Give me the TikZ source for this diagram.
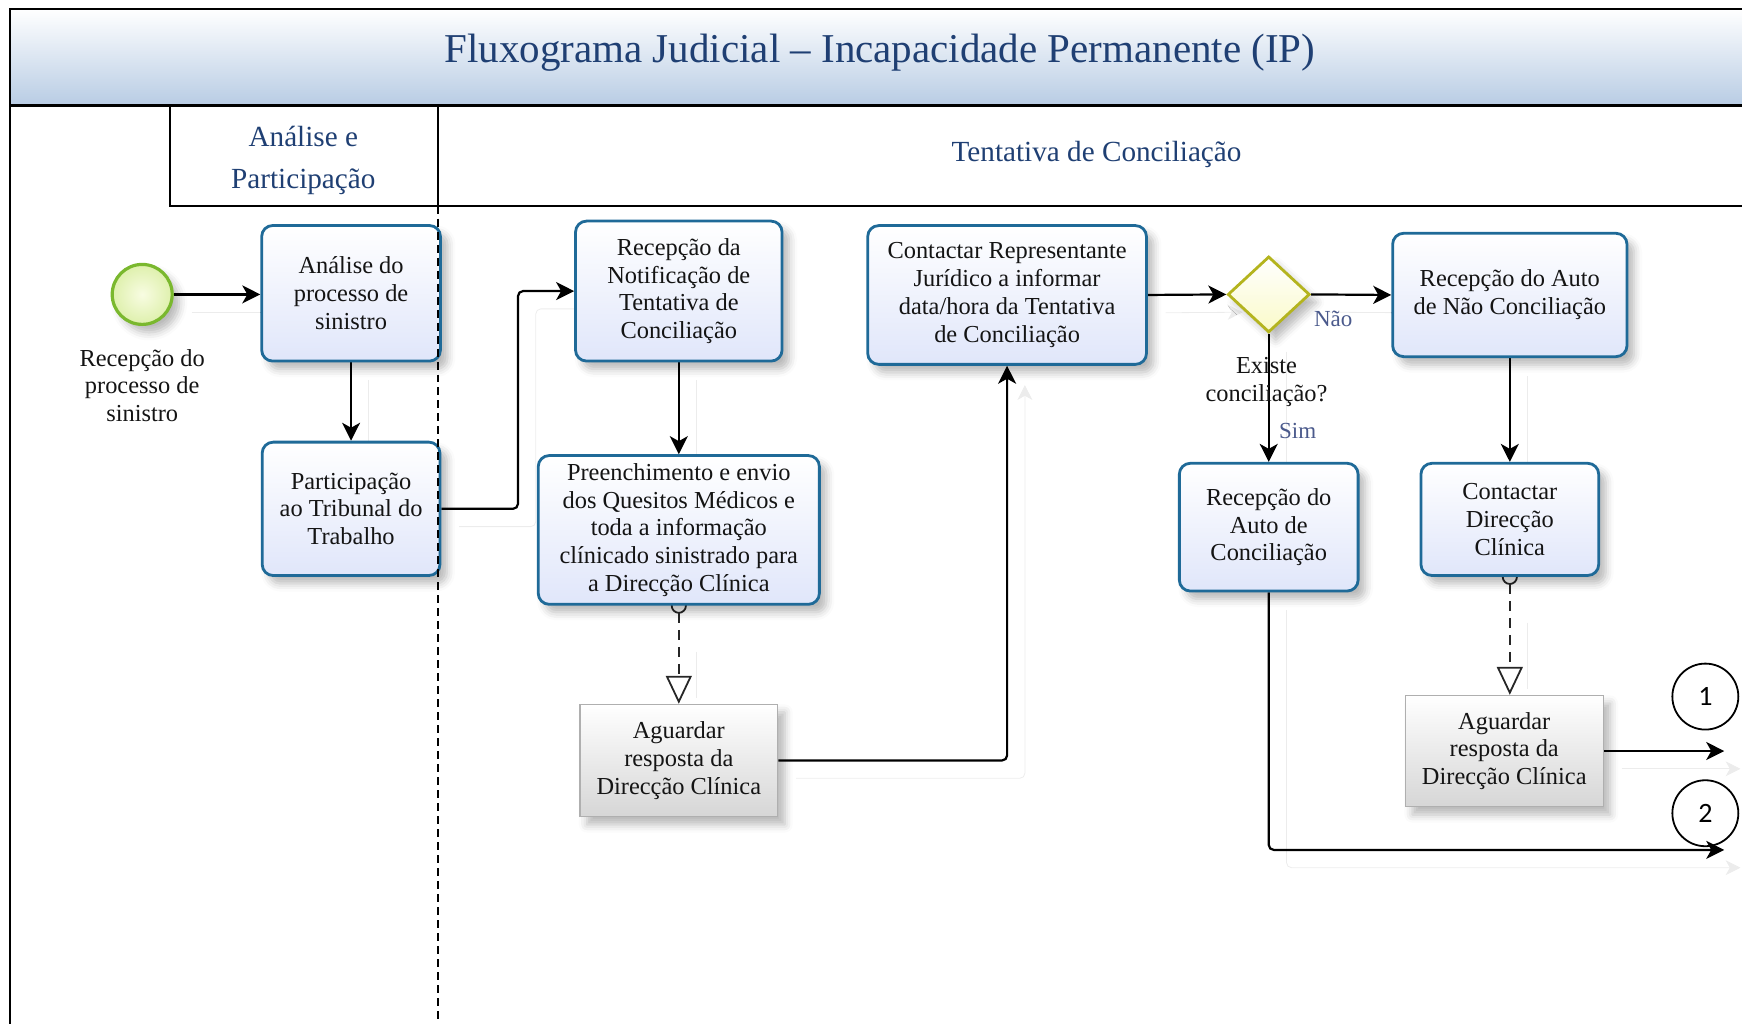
\documentclass[tikz,border=0pt]{standalone}
\usepackage{fontspec}
\setmainfont{Liberation Serif}
\newfontfamily\numfont{Carlito}
\usetikzlibrary{arrows.meta,shapes.geometric,shadows.blur}

\definecolor{taskline}{RGB}{31,106,152}
\definecolor{taskfill}{RGB}{224,230,250}
\definecolor{titleblue}{RGB}{31,63,115}
\definecolor{barblue}{RGB}{184,204,228}
\definecolor{startline}{RGB}{122,184,46}
\definecolor{startin}{RGB}{248,252,226}
\definecolor{startout}{RGB}{222,240,172}
\definecolor{gateline}{RGB}{180,180,30}
\definecolor{gatefill}{RGB}{250,250,200}
\definecolor{flowlabel}{RGB}{75,90,140}
\definecolor{waitline}{RGB}{175,175,175}
\definecolor{waitfill}{RGB}{214,214,214}
\definecolor{ghost}{RGB}{236,236,236}

\pgfdeclarelayer{background}
\pgfsetlayers{background,main}

\tikzset{
  txt/.style={font=\fontsize{12.2}{13.9}\selectfont, align=center, text=black!92},
  softshadow/.style={blur shadow={shadow xshift=3.5pt, shadow yshift=-4pt,
      shadow blur radius=4pt, shadow opacity=28}},
  task/.style={txt, draw=taskline, line width=1.4pt, rounded corners=5.5pt,
    top color=white, bottom color=taskfill, softshadow, inner sep=0pt},
  waitbox/.style={txt, draw=waitline, line width=0.6pt,
    top color=white, bottom color=waitfill, softshadow, inner sep=0pt},
  startev/.style={circle, draw=startline, line width=1.6pt, minimum size=30pt,
    inner color=startin, outer color=startout, softshadow, inner sep=0pt},
  gate/.style={diamond, draw=gateline, line width=1.4pt, minimum width=41pt,
    minimum height=38pt, inner sep=0pt, top color=white, bottom color=gatefill, softshadow},
  linkref/.style={circle, draw=black, line width=0.9pt, minimum size=33pt,
    inner sep=0pt, font=\numfont\fontsize{14}{16}\selectfont},
  ghostline/.style={preaction={draw=ghost, solid, transform canvas={shift={(8.9pt,-8.9pt)}}}},
  ghostplain/.style={preaction={draw=ghost, solid, arrows=-, shorten <=14pt, shorten >=12pt,
      transform canvas={shift={(8.9pt,-8.9pt)}}}},
  flow/.style={draw=black, line width=1.1pt, rounded corners=2.5pt,
    -{Stealth[length=9pt, width=9pt, inset=2.5pt]}, ghostline},
  msgflow/.style={draw=black!85, line width=1pt, dash pattern=on 5pt off 3.5pt,
    {Circle[fill=white, length=8pt, width=8pt, line width=0.9pt]}-{Triangle[fill=white, length=14pt, width=13pt, line width=0.9pt]},
    shorten <=-4pt, ghostplain},
  flowtag/.style={font=\fontsize{11.5}{13}\selectfont, text=flowlabel},
  header/.style={font=\fontsize{14.6}{21}\selectfont, text=titleblue, align=center},
}

\begin{document}
\begin{tikzpicture}[x=0.5556pt, y=-0.5556pt]
\useasboundingbox (0,0) rectangle (1568,921);

% title bar and lane headers
\draw[line width=1.3pt, top color=white, bottom color=barblue] (9,8) rectangle (1580,95);
\node[font=\fontsize{20.5}{24}\selectfont, text=titleblue] (title) at (792,47)
  {Fluxograma Judicial – Incapacidade Permanente (IP)};
\draw[line width=1.3pt] (9,95) -- (9,930);
\draw[line width=1pt] (153,95) -- (153,185) -- (1580,185);
\draw[line width=1pt] (394,95) -- (394,185);
\node[header] (laneA) at (273,144) {Análise e\\Participação};
\node[header] (laneB) at (987,139) {Tentativa de Conciliação};

% events, tasks and gateway
\node[startev] (start) at (128,265) {};
\node[txt] (startlbl) at (128,347) {Recepção do\\processo de\\sinistro};

\node[task, minimum width=89.4pt, minimum height=67.8pt] (A) at (316,264)
  {Análise do\\processo de\\sinistro};
\node[task, minimum width=88.9pt, minimum height=66.7pt] (B) at (316,458)
  {Participação\\ao Tribunal do\\Trabalho};
\node[task, minimum width=103.3pt, minimum height=70pt] (C) at (611,262)
  {Recepção da\\Notificação de\\Tentativa de\\Conciliação};
\node[task, minimum width=140.6pt, minimum height=74.4pt] (D) at (611,477)
  {Preenchimento e envio\\dos Quesitos Médicos e\\toda a informação\\clínicado sinistrado para\\a Direcção Clínica};
\node[waitbox, minimum width=98.9pt, minimum height=56.1pt] (E) at (611,684.5)
  {Aguardar\\resposta da\\Direcção Clínica};
\node[task, minimum width=139.4pt, minimum height=69.4pt] (F) at (906.5,265.5)
  {Contactar Representante\\Jurídico a informar\\data/hora da Tentativa\\de Conciliação};
\node[gate] (gw) at (1142,265) {};
\node[txt] (gwlbl) at (1140,344) {Existe\\conciliação?};
\node[task, minimum width=117.2pt, minimum height=61.7pt] (G) at (1359,265.5)
  {Recepção do Auto\\de Não Conciliação};
\node[task, minimum width=89.4pt, minimum height=63.9pt] (H) at (1142,474.5)
  {Recepção do\\Auto de\\Conciliação};
\node[task, minimum width=88.9pt, minimum height=56.1pt] (I) at (1359,467.5)
  {Contactar\\Direcção\\Clínica};
\node[waitbox, minimum width=98.9pt, minimum height=55.6pt] (J) at (1354,676)
  {Aguardar\\resposta da\\Direcção Clínica};
\node[linkref] (L1) at (1535,627) {1};
\node[linkref] (L2) at (1535,732) {2};
\coordinate (out1) at (1552,676);
\coordinate (out2) at (1552,765);

% connectors
\begin{pgfonlayer}{background}
\draw[flow] (start) -- (start -| A.west);
\draw[flow] (A.south) -- (B.north);
\draw[flow] (B.east) -- ++(69,0) |- (C.west);
\draw[flow] (C.south) -- (D.north);
\draw[msgflow] (D.south) -- (E.north);
\draw[flow] (E.east) -| (F.south);
\draw[flow] (F.east) -- (gw.west);
\draw[flow] (gw.east) -- (G.west);
\draw[flow] (gw.south) -- (H.north);
\draw[flow] (G.south) -- (I.north);
\draw[msgflow] (I.south) -- (I.south |- J.north);
\draw[flow] (J.east) -- (out1);
\draw[flow] (H.south) |- (out2);
\end{pgfonlayer}
\node[flowtag] (nao) at (1200,287) {Não};
\node[flowtag] (sim) at (1168,388) {Sim};

% lane separator
\draw[line width=0.8pt, dash pattern=on 4pt off 2.5pt] (394,185) -- (394,930);
\end{tikzpicture}
\end{document}
